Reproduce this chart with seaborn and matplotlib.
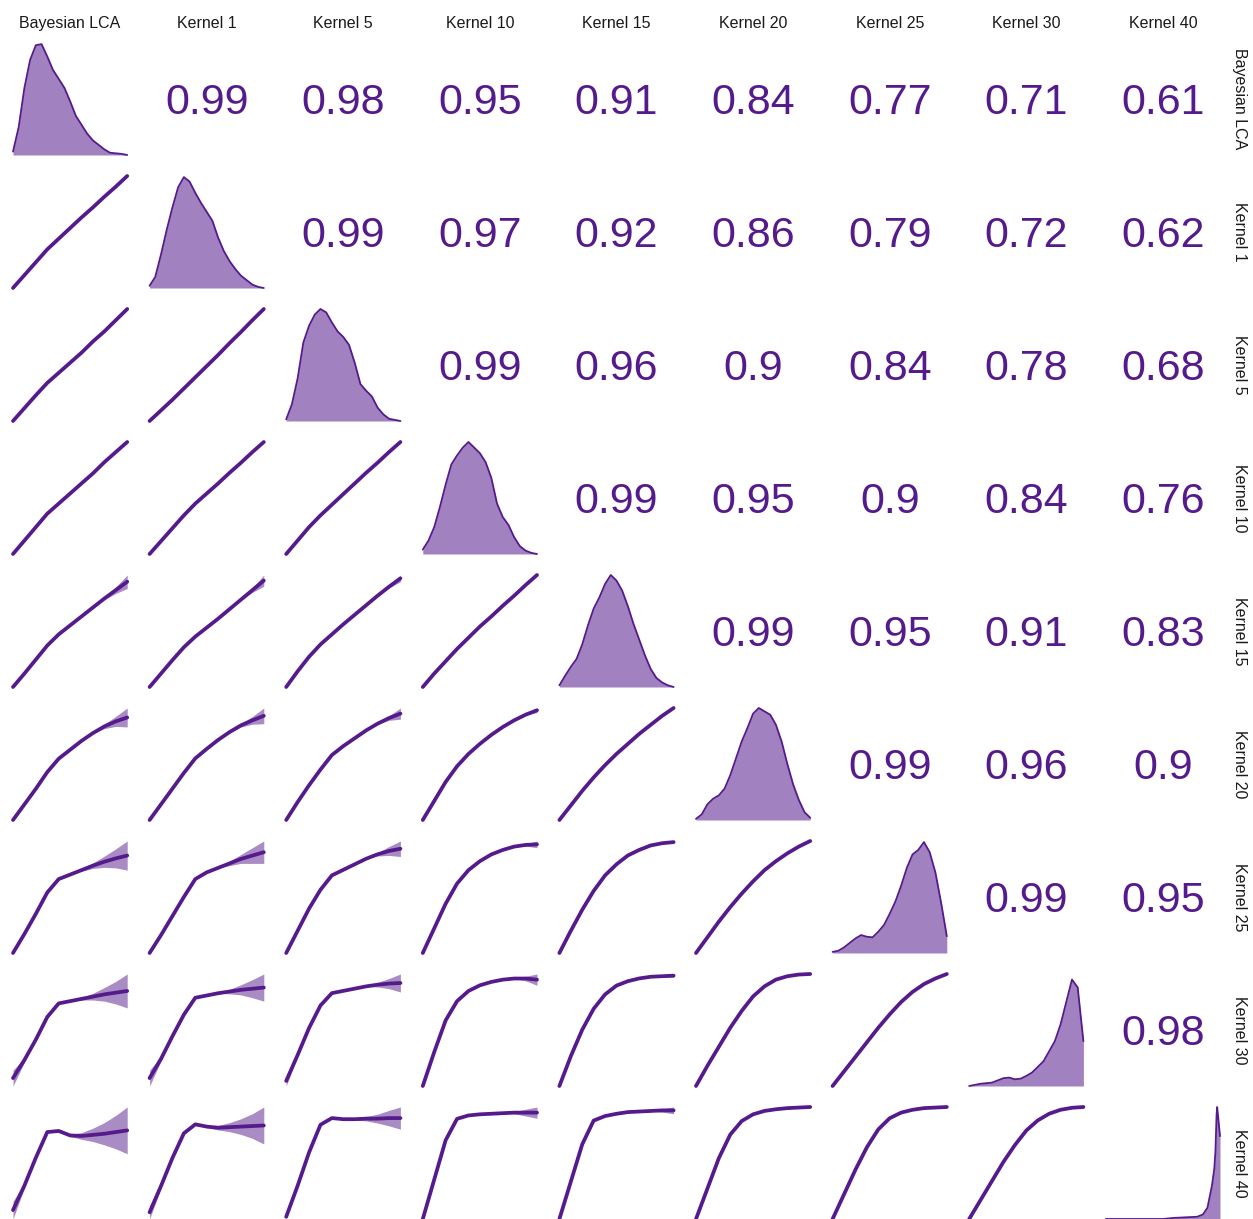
import matplotlib.pyplot as plt
import seaborn as sns

# Styling
sns.set_theme(style="white")
plt.rcParams['font.family'] = ['Liberation Sans', 'DejaVu Sans']

PURPLE = '#551A8B'   # ggplot "purple4"
LABEL_COLOR = '#1A1A1A'

VARIABLES = ["Bayesian LCA", "Kernel 1", "Kernel 5", "Kernel 10", "Kernel 15",
             "Kernel 20", "Kernel 25", "Kernel 30", "Kernel 40"]

# upper triangle: pairwise correlations, row by row (col > row)
CORR = [
    [0.99, 0.98, 0.95, 0.91, 0.84, 0.77, 0.71, 0.61],
    [0.99, 0.97, 0.92, 0.86, 0.79, 0.72, 0.62],
    [0.99, 0.96, 0.9, 0.84, 0.78, 0.68],
    [0.99, 0.95, 0.9, 0.84, 0.76],
    [0.99, 0.95, 0.91, 0.83],
    [0.99, 0.96, 0.9],
    [0.99, 0.95],
    [0.98],
]

# diagonal: density curves (scaled 0..1) read at a common grid
DENSITY_X = [0.0, 0.05, 0.1, 0.15, 0.2, 0.25, 0.3, 0.35, 0.4, 0.45, 0.5,
             0.55, 0.6, 0.65, 0.7, 0.75, 0.8, 0.85, 0.9, 0.95, 1.0]
DENSITY_Y = [
    [.03, .25, .60, .85, .98, .99, .88, .76, .68, .60, .48, .35, .27, .19, .13, .09, .05, .02, .015, .01, 0],
    [.02, .10, .30, .52, .72, .90, .99, .95, .85, .76, .68, .60, .45, .33, .24, .17, .11, .07, .03, .01, 0],
    [.015, .15, .38, .70, .85, .95, 1.0, .97, .88, .80, .75, .68, .52, .33, .27, .22, .12, .06, .02, .01, 0],
    [.04, .12, .24, .42, .62, .80, .88, .95, 1.0, .95, .90, .82, .68, .45, .33, .26, .15, .07, .03, .01, 0],
    [.015, .10, .18, .25, .38, .55, .70, .80, .92, 1.0, .95, .86, .72, .56, .42, .28, .16, .08, .04, .015, 0],
    [.01, .05, .14, .19, .22, .28, .40, .55, .70, .82, .95, 1.0, .97, .94, .85, .70, .50, .32, .18, .07, .02],
    [.01, .02, .05, .09, .13, .16, .145, .14, .19, .25, .35, .46, .60, .76, .88, .92, .99, .90, .72, .45, .15],
    [0, .01, .02, .025, .03, .05, .07, .075, .06, .065, .09, .12, .17, .22, .31, .40, .55, .75, .95, .88, .40],
]
# Kernel 40 is a sharp spike at the right edge, read at its own points
K40_X = [0.0, 0.5, 0.6, 0.7, 0.8, 0.85, 0.89, 0.93, 0.95, 0.96, 0.97, 0.975, 0.985, 1.0]
K40_Y = [0.0, 0.0, 0.01, 0.015, 0.02, 0.04, 0.10, 0.30, 0.45, 0.60, 0.93, 1.0, 0.90, 0.74]

# lower triangle: loess fits (scaled 0..1) at a common grid, row r, col c
SMOOTH_X = [0.0, 0.1, 0.2, 0.3, 0.4, 0.5, 0.6, 0.7, 0.8, 0.9, 1.0]
SMOOTH_FIT = [
    # Kernel 1
    [[0, .115, .23, .345, .44, .535, .63, .72, .815, .905, 1]],
    # Kernel 5
    [[0, .115, .23, .34, .43, .52, .61, .71, .80, .90, 1],
     [0, .095, .19, .29, .39, .49, .59, .695, .795, .90, 1]],
    # Kernel 10
    [[0, .12, .24, .36, .45, .54, .63, .72, .82, .91, 1],
     [0, .115, .23, .345, .45, .54, .63, .725, .815, .91, 1],
     [0, .12, .24, .345, .44, .535, .63, .725, .815, .91, 1]],
    # Kernel 15
    [[0, .12, .245, .37, .47, .55, .63, .71, .79, .865, .94],
     [0, .12, .24, .355, .45, .53, .61, .695, .78, .865, .95],
     [0, .14, .27, .38, .47, .56, .645, .73, .815, .895, .97],
     [0, .12, .23, .34, .44, .54, .63, .725, .815, .91, 1]],
    # Kernel 20
    [[0, .14, .28, .43, .55, .63, .71, .78, .84, .885, .92],
     [0, .14, .28, .42, .55, .635, .715, .785, .845, .89, .93],
     [0, .16, .31, .45, .58, .66, .73, .80, .86, .91, .95],
     [0, .17, .34, .48, .59, .68, .76, .83, .89, .94, .98],
     [0, .13, .26, .38, .49, .59, .68, .77, .85, .93, 1]],
    # Kernel 25
    [[0, .17, .35, .54, .66, .70, .74, .78, .815, .845, .87],
     [0, .16, .33, .50, .66, .72, .76, .80, .84, .87, .90],
     [0, .20, .40, .57, .70, .75, .80, .85, .89, .92, .94],
     [0, .22, .44, .62, .74, .82, .88, .92, .95, .965, .97],
     [0, .20, .39, .56, .70, .80, .88, .93, .97, .99, 1.0],
     [0, .14, .28, .41, .53, .64, .74, .82, .89, .95, 1]],
    # Kernel 30
    [[.08, .24, .42, .62, .74, .76, .78, .80, .82, .835, .85],
     [.08, .25, .45, .64, .79, .81, .83, .845, .86, .87, .88],
     [.05, .28, .52, .72, .83, .85, .87, .89, .905, .915, .92],
     [0, .30, .58, .75, .84, .89, .92, .94, .95, .95, .94],
     [0, .27, .51, .70, .83, .91, .95, .975, .99, .995, 1.0],
     [0, .18, .35, .52, .67, .80, .89, .95, .98, .995, 1],
     [0, .13, .26, .39, .52, .64, .75, .84, .91, .96, 1]],
    # Kernel 40
    [[.08, .30, .55, .78, .79, .75, .745, .755, .765, .78, .795],
     [.065, .30, .55, .77, .85, .83, .82, .825, .83, .835, .84],
     [.02, .30, .60, .85, .91, .90, .90, .905, .905, .91, .91],
     [0, .35, .70, .89, .92, .93, .935, .94, .945, .945, .945],
     [0, .33, .66, .87, .91, .93, .945, .95, .955, .96, .96],
     [0, .27, .54, .75, .87, .93, .96, .975, .985, .99, .995],
     [0, .22, .44, .64, .80, .90, .95, .975, .99, .995, 1],
     [0, .17, .34, .51, .66, .79, .88, .94, .975, .993, 1]],
]
# standard-error band half widths, only where visible
SMOOTH_SE = {
    (4, 0): [0, 0, 0, 0, 0, 0, 0, 0, .01, .03, .06],
    (4, 1): [0, 0, 0, 0, 0, 0, 0, 0, .005, .02, .05],
    (4, 2): [0, 0, 0, 0, 0, 0, 0, 0, 0, .01, .03],
    (5, 0): [0, 0, 0, 0, 0, 0, 0, .005, .02, .045, .085],
    (5, 1): [0, 0, 0, 0, 0, 0, 0, .005, .015, .035, .07],
    (5, 2): [0, 0, 0, 0, 0, 0, 0, 0, .005, .02, .05],
    (5, 3): [0, 0, 0, 0, 0, 0, 0, 0, 0, .005, .02],
    (6, 0): [0, 0, 0, 0, 0, 0, .01, .025, .05, .085, .13],
    (6, 1): [0, 0, 0, 0, 0, 0, 0, .02, .04, .07, .10],
    (6, 2): [0, 0, 0, 0, 0, 0, 0, 0, .015, .04, .07],
    (6, 3): [0, 0, 0, 0, 0, 0, 0, 0, 0, .01, .03],
    (6, 4): [0, 0, 0, 0, 0, 0, 0, 0, 0, 0, .01],
    (7, 0): [.07, .02, 0, 0, 0, 0, .01, .03, .06, .10, .15],
    (7, 1): [.07, .02, 0, 0, 0, 0, 0, .02, .045, .08, .12],
    (7, 2): [.045, .01, 0, 0, 0, 0, 0, 0, .02, .045, .08],
    (7, 3): [0, 0, 0, 0, 0, 0, 0, 0, 0, .02, .05],
    (7, 4): [0, 0, 0, 0, 0, 0, 0, 0, 0, .005, .015],
    (8, 0): [.08, .02, 0, 0, 0, .01, .03, .06, .10, .15, .21],
    (8, 1): [.06, .02, 0, 0, 0, .01, .02, .04, .07, .11, .165],
    (8, 2): [.02, 0, 0, 0, 0, 0, .01, .02, .04, .07, .10],
    (8, 3): [0, 0, 0, 0, 0, 0, 0, 0, .01, .03, .05],
    (8, 4): [0, 0, 0, 0, 0, 0, 0, 0, 0, .015, .03],
}

n = len(VARIABLES)
fig, axes = plt.subplots(n, n, figsize=(12.53, 12.19), dpi=100)
fig.subplots_adjust(left=13 / 1253, right=1220 / 1253, top=1 - 43 / 1219,
                    bottom=0.0, wspace=0.196, hspace=0.1875)

for r in range(n):
    for c in range(n):
        ax = axes[r, c]
        if r == c:
            xs = DENSITY_X if r < n - 1 else K40_X
            ys = DENSITY_Y[r] if r < n - 1 else K40_Y
            ax.fill_between(xs, 0, ys, color=PURPLE, alpha=0.55, linewidth=0)
            sns.lineplot(x=xs, y=ys, ax=ax, color=PURPLE, linewidth=1.3,
                         clip_on=False)
            ax.set_xlim(0, 1)
            ax.set_ylim(0, 1)
        elif r > c:
            fit = SMOOTH_FIT[r - 1][c]
            se = SMOOTH_SE.get((r, c), [0] * len(SMOOTH_X))
            lo = [f - s for f, s in zip(fit, se)]
            hi = [f + s for f, s in zip(fit, se)]
            ax.fill_between(SMOOTH_X, lo, hi, color=PURPLE, alpha=0.5,
                            linewidth=0)
            sns.lineplot(x=SMOOTH_X, y=fit, ax=ax, color=PURPLE,
                         linewidth=2.7, clip_on=False)
            ax.set_xlim(0, 1)
            ax.set_ylim(min(lo), max(hi))
        else:
            val = CORR[r][c - r - 1]
            ax.text(0.5, 0.46, f"{val:g}", transform=ax.transAxes,
                    ha='center', va='center', fontsize=31, color=PURPLE)
        ax.axis('off')
        if r == 0:
            ax.text(0.5, 1.175, VARIABLES[c], transform=ax.transAxes,
                    ha='center', va='center', fontsize=11.5, color=LABEL_COLOR)
        if c == n - 1:
            ax.text(1.175, 0.5, VARIABLES[r], transform=ax.transAxes,
                    ha='center', va='center', rotation=270, fontsize=11.5,
                    color=LABEL_COLOR)

plt.savefig("out.png", dpi=100)
plt.close()
